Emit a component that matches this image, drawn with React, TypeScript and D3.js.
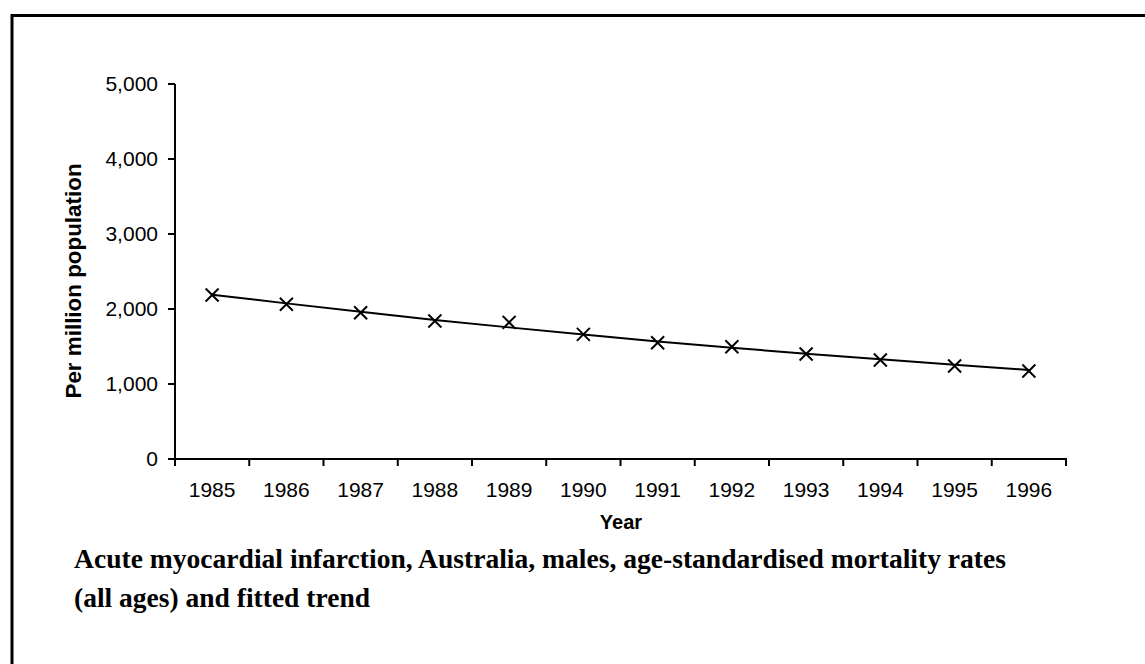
import React from "react";
import * as d3 from "d3";

const years = ["1985","1986","1987","1988","1989","1990","1991","1992","1993","1994","1995","1996"];
const observed = [2187, 2063, 1951, 1840, 1822, 1662, 1551, 1497, 1400, 1320, 1240, 1173];
const trend = [2190, 2075, 1962, 1852, 1755, 1660, 1568, 1484, 1404, 1330, 1257, 1187];
const yTicks = [0, 1000, 2000, 3000, 4000, 5000];
const yLabel = "Per million population";
const xLabel = "Year";
const captionLines = [
  "Acute myocardial infarction, Australia, males, age-standardised mortality rates",
  "(all ages) and fitted trend",
];

export default function App() {
  const W = 1145, H = 664;
  const x = d3.scaleBand<string>().domain(years).range([175, 1066]);
  const y = d3.scaleLinear().domain([0, 5000]).range([459, 84]);
  const cx = (d: string) => (x(d) as number) + x.bandwidth() / 2;
  const line = d3.line<number>().x((_, i) => cx(years[i])).y((v) => y(v));
  const fmt = d3.format(",");
  const sans = "'Liberation Sans', Arial, sans-serif";
  const serif = "'Liberation Serif', 'Times New Roman', serif";
  const m = 6.5;
  const xTicks = [...years.map((d) => x(d) as number), 1066];
  return (
    <svg width={W} height={H} style={{ position: "absolute", left: 0, top: 0, background: "#fff" }}>
      <rect x={0} y={0} width={W} height={H} fill="#fff" />
      {/* frame */}
      <line x1={12} y1={15.5} x2={W} y2={15.5} stroke="#000" strokeWidth={3} />
      <line x1={12} y1={14} x2={12} y2={H} stroke="#000" strokeWidth={3} />
      {/* y axis */}
      <line x1={175} y1={y(5000)} x2={175} y2={y(0)} stroke="#000" strokeWidth={2} />
      {yTicks.map((t) => (
        <g key={t}>
          <line x1={168} x2={175} y1={y(t)} y2={y(t)} stroke="#000" strokeWidth={2} />
          <text x={158} y={y(t)} dy="0.35em" textAnchor="end" fontFamily={sans} fontSize={21} fill="#000">
            {fmt(t)}
          </text>
        </g>
      ))}
      {/* x axis */}
      <line x1={174} x2={1067} y1={y(0)} y2={y(0)} stroke="#000" strokeWidth={2} />
      {xTicks.map((t, i) => (
        <line key={i} x1={t} x2={t} y1={y(0)} y2={y(0) + 7} stroke="#000" strokeWidth={2} />
      ))}
      {years.map((d) => (
        <text key={d} x={cx(d)} y={497} textAnchor="middle" fontFamily={sans} fontSize={21} fill="#000">
          {d}
        </text>
      ))}
      <text x={621} y={529} textAnchor="middle" fontFamily={sans} fontSize={20} fontWeight="bold" fill="#000">
        {xLabel}
      </text>
      <text
        transform={`translate(81,281) rotate(-90)`}
        textAnchor="middle"
        fontFamily={sans}
        fontSize={22.4}
        fontWeight="bold"
        fill="#000"
      >
        {yLabel}
      </text>
      {/* trend */}
      <path d={line(trend) || ""} fill="none" stroke="#000" strokeWidth={2} />
      {/* markers */}
      {observed.map((v, i) => {
        const px = cx(years[i]);
        const py = y(v);
        return (
          <g key={i} stroke="#000" strokeWidth={2}>
            <line x1={px - m} y1={py - m} x2={px + m} y2={py + m} />
            <line x1={px - m} y1={py + m} x2={px + m} y2={py - m} />
          </g>
        );
      })}
      {/* caption */}
      <text x={74} y={568} fontFamily={serif} fontSize={27} fontWeight="bold" fill="#000" textLength={932} lengthAdjust="spacingAndGlyphs">
        {captionLines[0]}
      </text>
      <text x={74} y={607} fontFamily={serif} fontSize={27} fontWeight="bold" fill="#000" textLength={296} lengthAdjust="spacingAndGlyphs">
        {captionLines[1]}
      </text>
    </svg>
  );
}
